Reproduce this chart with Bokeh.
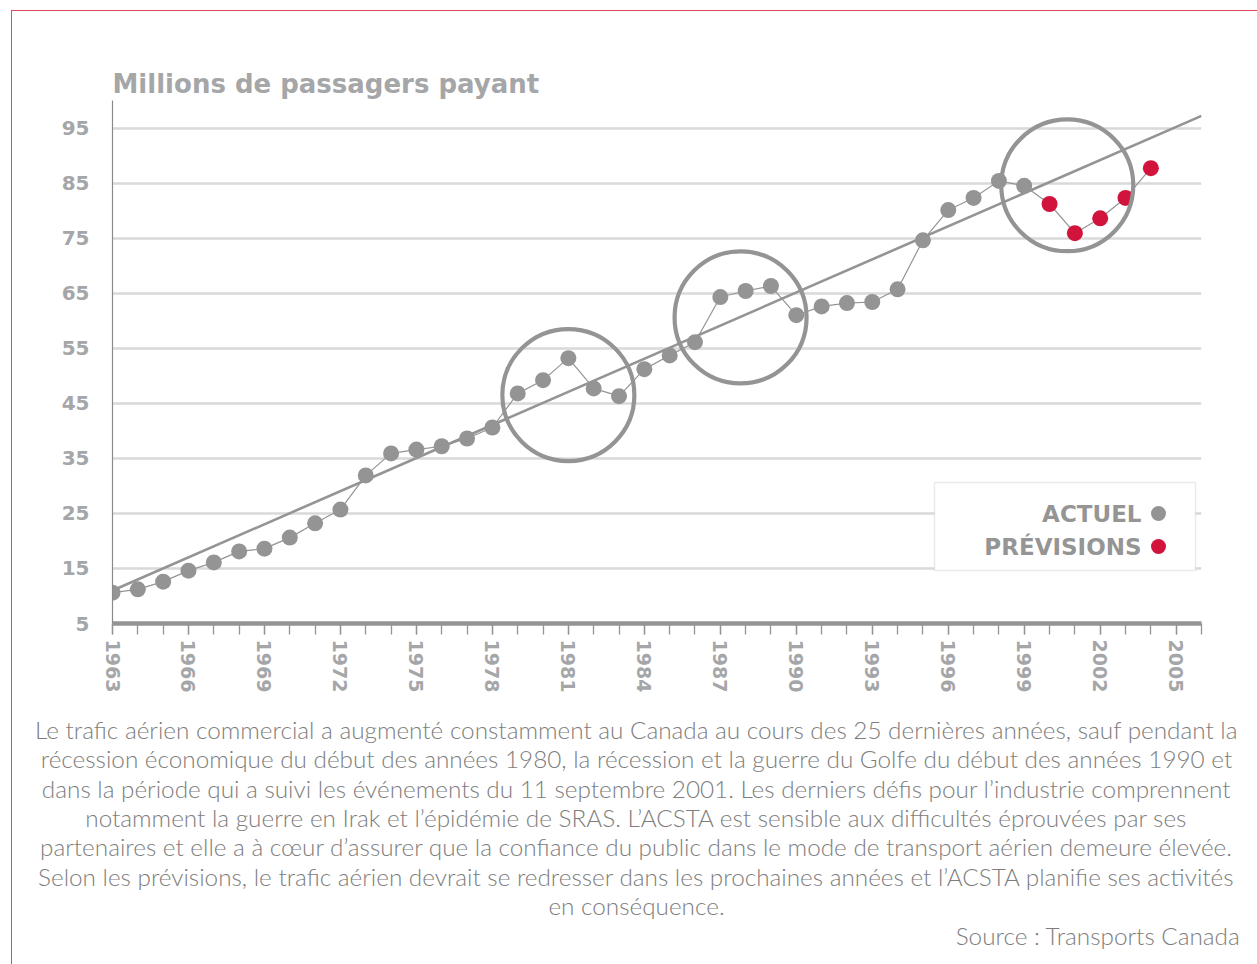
from bokeh.plotting import figure
from bokeh.layouts import column
from bokeh.models import Range1d, FixedTicker, Label, BoxAnnotation
from bokeh.embed import file_html
from bokeh.resources import INLINE

# ---------------- data ----------------
years_actual = list(range(1963, 2000))
passengers_actual = [10.6, 11.2, 12.6, 14.6, 16.1, 18.1, 18.6, 20.6, 23.2, 25.7,
                     31.9, 35.9, 36.6, 37.2, 38.6, 40.6, 46.8, 49.2, 53.2, 47.7,
                     46.3, 51.2, 53.7, 56.1, 64.3, 65.4, 66.3, 61.0, 62.6, 63.2,
                     63.4, 65.7, 74.6, 80.1, 82.3, 85.4, 84.5]
years_forecast = [2000, 2001, 2002, 2003, 2004]
passengers_forecast = [81.2, 75.9, 78.6, 82.3, 87.7]

trend_years = [1963, 2006]
trend_values = [11.0, 97.2]

highlight_years = [1981.0, 1987.8, 2000.7]
highlight_values = [46.5, 60.6, 84.6]

y_ticks = [5, 15, 25, 35, 45, 55, 65, 75, 85, 95]
x_label_years = list(range(1963, 2006, 3))
x_minor_years = list(range(1963, 2007))

title_text = "Millions de passagers payant"
legend_labels = ["ACTUEL", "PRÉVISIONS"]
caption_lines = [
    "Le trafic aérien commercial a augmenté constamment au Canada au cours des 25 dernières années, sauf pendant la",
    "récession économique du début des années 1980, la récession et la guerre du Golfe du début des années 1990 et",
    "dans la période qui a suivi les événements du 11 septembre 2001. Les derniers défis pour l’industrie comprennent",
    "notamment la guerre en Irak et l’épidémie de SRAS. L’ACSTA est sensible aux difficultés éprouvées par ses",
    "partenaires et elle a à cœur d’assurer que la confiance du public dans le mode de transport aérien demeure élevée.",
    "Selon les prévisions, le trafic aérien devrait se redresser dans les prochaines années et l’ACSTA planifie ses activités",
    "en conséquence.",
]
source_text = "Source : Transports Canada"

# ---------------- style ----------------
GRAY = "#949494"
RED = "#d2143c"
TXT = "#a5a6a8"
CAP = "#7d7d7d"
BORDER_RED = "#e2475f"
BOLD_FONT = "DejaVu Sans"
CAP_FONT = "Lato Light, Lato"

PAGE_W, PAGE_H = 1257, 964
OX, OY = 12, 11          # page offset of the framed content
W = PAGE_W - OX
H = PAGE_H - OY

# frame edges in page pixels
FL, FR, FT, FB = 112, 1201, 100, 623
L, R, T, B = FL - OX, W - (FR - OX), FT - OY, H - (FB - OY)

p = figure(width=W, height=H, x_range=Range1d(1963, 2006), y_range=Range1d(5, 100),
           output_backend="svg", toolbar_location=None,
           min_border_left=L, min_border_right=R, min_border_top=T, min_border_bottom=B,
           background_fill_color="white", border_fill_color="white")
p.outline_line_color = None

# title
p.title.text = title_text
p.title.align = "left"
p.title.text_font = BOLD_FONT
p.title.text_font_style = "bold"
p.title.text_font_size = "26px"
p.title.text_color = TXT
p.title.standoff = 3

# axes
xa = p.xaxis[0]
xa.ticker = FixedTicker(ticks=x_label_years, minor_ticks=x_minor_years)
xa.axis_line_color = GRAY
xa.axis_line_width = 4.5
xa.major_tick_out = 11
xa.major_tick_in = 0
xa.minor_tick_out = 11
xa.minor_tick_in = 0
xa.major_tick_line_color = GRAY
xa.minor_tick_line_color = GRAY
xa.major_tick_line_width = 1.3
xa.minor_tick_line_width = 1.3
xa.major_label_orientation = "vertical"
xa.major_label_standoff = 5
xa.major_label_text_font = BOLD_FONT
xa.major_label_text_font_style = "bold"
xa.major_label_text_font_size = "19px"
xa.major_label_text_color = TXT

ya = p.yaxis[0]
ya.ticker = FixedTicker(ticks=y_ticks, minor_ticks=[])
ya.axis_line_color = "#8a8a8a"
ya.axis_line_width = 1.2
ya.major_tick_out = 0
ya.major_tick_in = 0
ya.minor_tick_out = 0
ya.major_label_standoff = 23
ya.major_label_text_font = BOLD_FONT
ya.major_label_text_font_style = "bold"
ya.major_label_text_font_size = "20px"
ya.major_label_text_color = TXT

p.xgrid.grid_line_color = None
p.ygrid.ticker = FixedTicker(ticks=y_ticks)
p.ygrid.grid_line_color = "#d9d9d9"
p.ygrid.grid_line_width = 2.5

# trend line
p.line(trend_years, trend_values, line_color=GRAY, line_width=2.6)

# data line connecting all points
all_years = years_actual + years_forecast
all_values = passengers_actual + passengers_forecast
p.line(all_years, all_values, line_color=GRAY, line_width=1.2)

p.scatter(years_actual, passengers_actual, size=16, fill_color=GRAY, line_color=None)
p.scatter(years_forecast, passengers_forecast, size=16, fill_color=RED, line_color=None)

# highlight circles
p.scatter(highlight_years, highlight_values, size=132, fill_alpha=0,
          line_color=GRAY, line_width=4.2)

# legend (page coordinates converted to canvas)
p.add_layout(BoxAnnotation(left=934 - OX, right=1195 - OX, top=482 - OY, bottom=570 - OY,
                           left_units="canvas", right_units="canvas",
                           top_units="canvas", bottom_units="canvas",
                           fill_color="white", fill_alpha=1,
                           line_color="#b9b9b9", line_width=1.5))
for lab, yy in zip(legend_labels, [513, 546]):
    p.add_layout(Label(x=1141 - OX, y=yy - OY, x_units="canvas", y_units="canvas", text=lab,
                       text_font=BOLD_FONT, text_font_style="bold", text_font_size="23px",
                       text_color="#959595", text_baseline="middle", text_align="right"))


def xdata(px):
    return 1963 + (px - FL) * (2006 - 1963) / (FR - FL)


def ydata(py):
    return 5 + (FB - py) * (100 - 5) / (FB - FT)


leg_g = p.scatter([xdata(1158)], [ydata(513)], size=15, fill_color=GRAY, line_color=None)
leg_r = p.scatter([xdata(1158)], [ydata(546)], size=15, fill_color=RED, line_color=None)
leg_g.level = "overlay"
leg_r.level = "overlay"

# caption (in the lower side panel, canvas coordinates)
for i, line in enumerate(caption_lines):
    p.add_layout(Label(x=636 - OX, y=729 + i * 29.3 - OY, x_units="canvas", y_units="canvas",
                       text=line, text_font=CAP_FONT, text_font_size="24.3px",
                       text_color=CAP, text_baseline="middle", text_align="center"), "below")
p.add_layout(Label(x=1240 - OX, y=935 - OY, x_units="canvas", y_units="canvas",
                   text=source_text, text_font=CAP_FONT, text_font_size="24.3px",
                   text_color=CAP, text_baseline="middle", text_align="right"), "below")

page = column(p, margin=(OY - 1, 0, 0, OX - 1),
              styles={"border-top": f"1.5px solid {BORDER_RED}",
                      "border-left": f"1.5px solid {BORDER_RED}"})

open("out.html", "w").write(file_html(page, INLINE))
